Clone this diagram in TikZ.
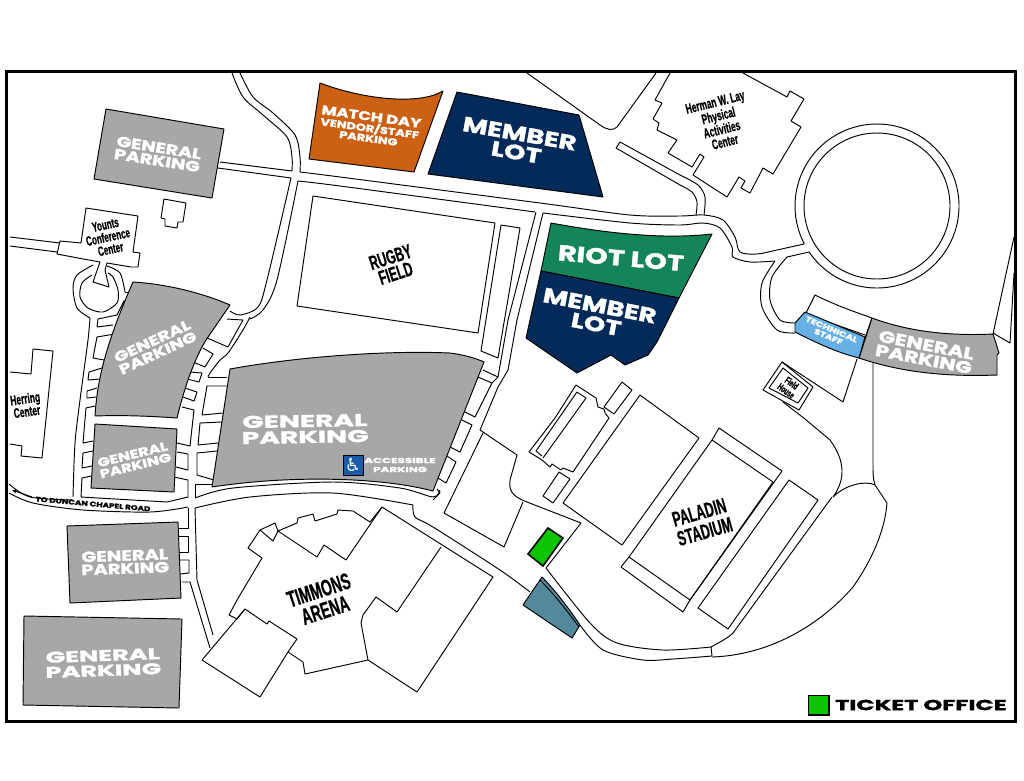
\documentclass[tikz,border=0pt]{standalone}
\usepackage{fontspec}
\usetikzlibrary{arrows.meta}
\newfontfamily\lotfont[FakeStretch=1.32,FakeBold=1.8]{Poppins Bold}
\newfontfamily\widefont[FakeStretch=1.65,FakeBold=1.8]{Poppins Bold}
\newfontfamily\signfont[FakeStretch=0.6,FakeBold=0.5]{Liberation Sans Bold}
\newfontfamily\symfont{DejaVu Sans}
\definecolor{lotgrey}{HTML}{A6A7A9}
\definecolor{lotnavy}{HTML}{032A58}
\definecolor{lotorange}{HTML}{CC6114}
\definecolor{lotgreen}{HTML}{148558}
\definecolor{lotblue}{HTML}{67B0E6}
\definecolor{lotteal}{HTML}{53899B}
\definecolor{ticketgreen}{HTML}{0CC400}
\definecolor{signblue}{HTML}{1A5CA8}
\tikzset{
  roadline/.style={draw=black, line width=0.95pt, line join=round},
  lotshape/.style={draw=black, line width=0.95pt, line join=round, fill=#1},
  lottext/.style 2 args={text=white, align=center, inner sep=0pt, font=\lotfont\fontsize{#1}{#2}\selectfont},
  widetext/.style 2 args={text=white, align=center, inner sep=0pt, font=\widefont\fontsize{#1}{#2}\selectfont},
  signtext/.style 2 args={text=black, align=center, inner sep=0pt, font=\signfont\fontsize{#1}{#2}\selectfont}
}
\begin{document}
\begin{tikzpicture}[x=1pt,y=-1pt]
\useasboundingbox (0,0) rectangle (1024,780);
\fill[white] (0,0) rectangle (1024,780);

\draw[roadline] plot[smooth] coordinates {(232,73) (243,97) (263,115) (287,137) (292,157) (292,171)};
\draw[roadline] plot[smooth] coordinates {(240,73) (253,97) (273,113) (295,135) (300,157) (300,172)};
\draw[roadline] (220,162) -- (292,171);
\draw[roadline] (218,168) -- (291,178);
\draw[roadline] plot[smooth] coordinates {(300,172) (340,177) (540,203) (630,215) (680,216) (704,215) (723,220) (735,237) (740,252) (757,254) (777,250) (804,244)};
\draw[roadline] plot[smooth] coordinates {(298,181) (340,186) (535,212)};
\draw[roadline] plot[smooth] coordinates {(543,213) (630,223) (680,225) (703,223) (720,228) (732,247) (733,257) (750,262) (775,261)};
\draw[roadline] (787,257) -- (809,252);
\draw[roadline] (620,142) -- (680,175);
\draw[roadline] (616,148) -- (680,185);
\draw[roadline] (620,142) -- (616,148);
\draw[roadline] plot[smooth] coordinates {(680,175) (698,185) (705,197) (704,215)};
\draw[roadline] plot[smooth] coordinates {(680,185) (692,192) (697,202) (696,215)};
\draw[roadline] plot[smooth] coordinates {(775,261) (762,283) (762,307) (777,330) (795,333)};
\draw[roadline] plot[smooth] coordinates {(787,257) (772,277) (770,300) (780,320) (795,323)};
\draw[roadline] plot[smooth,domain=152.5:506,samples=90] ({877+82*cos(\x)},{206+82*sin(\x)});
\draw[roadline] (877,206) circle (73);

\draw[roadline] plot[smooth] coordinates {(291,178) (267,280) (258,307) (240,315) (230,311)};
\draw[roadline] plot[smooth] coordinates {(298,181) (277,280) (263,310) (250,319)};
\draw[roadline] (10,237) -- (60,243);
\draw[roadline] (10,246) -- (57,252);
\draw[roadline] plot[smooth] coordinates {(93,265) (77,275) (73,288) (77,308) (90,318)};
\draw[roadline] plot[smooth] coordinates {(92,275) (82,283) (80,297) (88,308) (103,312) (117,303) (118,290) (113,277) (108,273)};
\draw[roadline] plot[smooth] coordinates {(107,266) (120,273) (125,292)};
\draw[roadline] (125,292) -- (132,292);
\draw[roadline] (130,300) -- (124,301) -- (117,315) -- (98,319);
\draw[roadline] (97,327) -- (113,325);
\draw[roadline] (98,319) -- (97,327);
\draw[roadline] plot[smooth] coordinates {(90,318) (88,340) (80,400) (75,443) (73,497)};
\draw[roadline] (115,334) -- (97,337) -- (93,358) -- (104,360);
\draw[roadline] (102,368) -- (89,372) -- (88,380) -- (100,379);
\draw[roadline] (97,388) -- (87,391) -- (87,398) -- (96,397);
\draw[roadline] (95,406) -- (86,408) -- (83,443) -- (93,441);
\draw[roadline] (93,451) -- (83,453) -- (82,468) -- (92,466);
\draw[roadline] (91,476) -- (82,478) -- (81,497) -- (167,502) -- (188,497) -- (188,480) -- (174,477);
\draw[roadline] (177,452) -- (188,454) -- (188,470) -- (176,467);
\draw[roadline] (177,443) -- (190,446) -- (194,410) -- (182,407);
\draw[roadline] (185,388) -- (197,392) -- (194,401) -- (183,397);
\draw[roadline] (190,372) -- (202,373) -- (199,382) -- (187,379);
\draw[roadline] (203,348) -- (213,354) -- (205,367) -- (193,362);
\draw[roadline] (227,319) -- (243,320) -- (228,347) -- (207,338);
\draw[roadline] plot[smooth] coordinates {(250,317) (243,330) (228,353) (220,360) (210,373) (208,377)};
\draw[roadline] (208,377) -- (227,377);
\draw[roadline] (227,386) -- (207,386) -- (202,415) -- (223,413);
\draw[roadline] (222,422) -- (200,423) -- (198,445) -- (218,443);
\draw[roadline] (217,451) -- (197,453) -- (197,475) -- (214,480);
\draw[roadline] (212,484) -- (195,484) -- (195,498);

\draw[roadline] plot[smooth] coordinates {(9,484) (30,497) (73,500)};
\draw[roadline] plot[smooth] coordinates {(9,493) (33,503) (83,510) (150,512) (188,507)};
\draw[roadline] plot[smooth] coordinates {(195,498) (233,488) (333,482) (400,488) (433,497) (440,490)};
\draw[roadline] plot[smooth] coordinates {(195,508) (250,497) (333,493) (413,505)};
\draw[roadline] plot[smooth] coordinates {(413,505) (415,517) (433,527) (500,570) (530,592)};
\draw[roadline,-{Stealth[length=5pt,width=4pt]}] (32,497) -- (12,490);
\draw[roadline] (188,508) -- (188,528) -- (178,528);
\draw[roadline] (178,536) -- (188,536) -- (188,552) -- (179,552);
\draw[roadline] (180,560) -- (189,560) -- (189,573) -- (180,574);
\draw[roadline] (182,582) -- (190,582) -- (210,648);
\draw[roadline] (195,508) -- (197,580) -- (213,635);

\draw[roadline] (536,212) -- (508,320) -- (498,377) -- (483,370);
\draw[roadline] (543,213) -- (517,320) -- (508,370) -- (498,387) -- (480,430);
\draw[roadline] (498,377) -- (492,383) -- (475,417) -- (465,412);
\draw[roadline] (492,383) -- (478,377);
\draw[roadline] (462,420) -- (472,425) -- (460,452) -- (450,447);
\draw[roadline] (447,456) -- (456,462) -- (446,483) -- (438,478);
\draw[roadline] (437,489) -- (440,493) -- (433,500);

\draw[roadline] (313,196) -- (495,223) -- (478,333) -- (297,306) -- cycle;
\draw[roadline] (501,225) -- (520,228) -- (498,358) -- (481,351) -- cycle;

\draw[roadline] (527,73) -- (600,125) .. controls (607,130) and (613,131) .. (617,127) -- (656,73);
\draw[roadline] (670,73) -- (655,100) -- (662,103) -- (653,119) -- (659,123) -- (657,130) -- (677,140) -- (668,153) -- (692,167) -- (700,154) -- (704,157) -- (693,175) -- (727,197) -- (739,177) -- (745,181) -- (741,188) -- (750,193) -- (763,168) -- (773,174) -- (801,127) -- (791,121) -- (804,99) -- (790,91) -- (787,97) -- (743,73);

\draw[roadline] (86,208) -- (138,216) -- (133,252) -- (140,253) -- (138,267) -- (131,267) -- (107,263) -- (105,270) -- (109,287) -- (93,282) -- (100,262) -- (78,258) -- (57,254) -- (60,241) -- (81,243) -- cycle;
\draw[roadline] (164,199) -- (186,203) -- (183,222) -- (178,222) -- (177,228) -- (165,226) -- (165,219) -- (161,218) -- cycle;
\draw[roadline] (10,372) -- (31,374) -- (33,349) -- (53,351) -- (42,458) -- (21,456) -- (22,446) -- (10,444);

\draw[roadline] (382,507) -- (493,577) -- (417,692) -- (368,660) -- (305,674) -- (303,662) -- (288,652) -- (297,639) -- (269,621) -- (267,624) -- (245,609) -- (237,619) -- (229,615) -- (237,600) -- (262,558) -- (248,548) -- (260,530) -- (275,523) -- (278,531) -- (297,523) -- (298,518) -- (313,514) -- (315,521) -- (337,514) -- (338,510) -- (353,511) -- (370,522) -- cycle;
\draw[roadline] (260,530) -- (273,541) -- (278,531) -- (317,557) -- (324,545) -- (346,560) -- (382,507);
\draw[roadline] (441,547) -- (397,612) -- (376,597) -- (363,615) -- (361,623) -- (368,660);
\draw[roadline] (245,609) -- (202,660) -- (260,697) -- (288,652);

\draw[roadline] (480,430) -- (517,455) -- (510,480) .. controls (509,490) and (511,496) .. (527,502) -- (581,523) -- (546,568);
\draw[roadline] plot[smooth] coordinates {(546,568) (590,623) (617,643) (663,650) (711,647)};
\draw[roadline] plot[smooth] coordinates {(580,625) (603,650) (643,660) (673,659) (712,656)};
\draw[roadline] (711,647) -- (712,656);
\draw[roadline] (483,433) -- (444,513) -- (504,547) -- (523,502);

\draw[roadline] (576,385) -- (596,398) -- (598,407) -- (604,409) -- (605,413) -- (609,418) -- (573,472) -- (563,468) -- (561,470) -- (552,464) -- (550,467) -- (542,460) -- (529,452) -- (555,418) -- cycle;
\draw[roadline] (577,392) -- (536,451) -- (542,456);
\draw[roadline] (586,398) -- (577,392);
\draw[roadline] (586,398) -- (543,458);
\draw[roadline] (622,382) -- (632,390) -- (614,414) -- (604,407) -- cycle;
\draw[roadline] (559,472) -- (570,479) -- (553,503) -- (543,496) -- cycle;
\draw[roadline] (640,395) -- (699,438) -- (622,545) -- (563,503) -- cycle;
\draw[roadline] (719,428) -- (782,471) -- (690,600) -- (683,612) -- (621,567) -- (629,557) -- (712,440) -- cycle;
\draw[roadline] (712,440) -- (773,482);
\draw[roadline] (629,557) -- (690,600);
\draw[roadline] (773,482) -- (690,600);
\draw[roadline] (789,480) -- (818,500) -- (728,629) -- (698,608) -- cycle;
\draw[roadline] (711,647) .. controls (720,642) and (728,638) .. (733,633) -- (832,497);
\draw[roadline] (712,657) .. controls (770,655) and (820,625) .. (853,587) .. controls (872,560) and (885,530) .. (887,503) -- (875,485) .. controls (865,480) and (845,485) .. (833,497) .. controls (845,480) and (846,462) .. (830,440) -- (805,419) -- (783,402);
\draw[roadline] (873,363) -- (873,470) .. controls (873,477) and (874,482) .. (875,485);

\draw[roadline] (782,362) -- (813,387) -- (799,410) -- (763,390) -- cycle;
\draw[roadline] (783,368) -- (808,388) -- (798,403) -- (769,388) -- cycle;
\draw[roadline] (782,362) -- (843,402) -- (857,359);

\draw[roadline] (993,334) -- (1014,237);
\draw[roadline] (993,333) -- (1010,343) -- (1014,273);
\draw[roadline] (815,295) .. controls (835,305) and (855,312) .. (872,318) -- (865,338) -- (806,313) -- cycle;
\draw[roadline] (808,315) -- (865,335);

\draw[lotshape=lotgrey] (106,109) -- (224,129) -- (212,198) -- (94,179) -- cycle;
\draw[lotshape=lotgrey] (133,282) .. controls (165,284) and (200,292) .. (230,305) -- (206,340) .. controls (195,358) and (185,385) .. (177,418) .. controls (150,416) and (120,415) .. (95,416) .. controls (97,385) and (103,350) .. (133,282) -- cycle;
\draw[lotshape=lotgrey] (95,424) -- (177,429) -- (174,492) -- (91,488) -- cycle;
\draw[lotshape=lotgrey] (230,369) .. controls (290,358) and (380,350) .. (450,353) .. controls (465,355) and (475,358) .. (484,362) -- (433,491) .. controls (380,477) and (290,475) .. (212,487) -- cycle;
\draw[lotshape=lotgrey] (67,526) -- (178,522) -- (181,598) -- (70,603) -- cycle;
\draw[lotshape=lotgrey] (24,616) -- (182,619) -- (179,708) -- (23,705) -- cycle;
\draw[lotshape=lotgrey] (872,318) .. controls (910,332) and (950,336) .. (993,334) -- (999,353) -- (997,355) -- (997,375) .. controls (945,377) and (900,372) .. (859,358) -- cycle;
\draw[lotshape=lotorange] (320,83) .. controls (365,100) and (420,105) .. (443,91) -- (414,172) -- (309,159) -- cycle;
\draw[lotshape=lotnavy] (457,92) -- (579,115) -- (603,197) -- (428,174) -- cycle;
\draw[lotshape=lotgreen] (551,223) .. controls (600,232) and (660,240) .. (712,234) -- (679,298) -- (541,271) -- cycle;
\draw[lotshape=lotnavy] (541,271) -- (679,298) -- (657,342) -- (648,355) -- (625,365) -- (611,355) -- (577,373) -- (526,338) -- cycle;
\draw[lotshape=lotblue] (805,312) -- (865,337) -- (859,358) .. controls (835,352) and (815,342) .. (795,332) -- (795,323) -- cycle;
\draw[lotshape=lotteal] (542,577) .. controls (555,590) and (570,610) .. (580,625) -- (572,638) -- (523,605) -- cycle;
\draw[roadline] (540,580) .. controls (555,595) and (568,612) .. (579,627);
\draw[black, line width=1.6pt, fill=ticketgreen] (548,528) -- (563,538) -- (543,566) -- (528,554) -- cycle;
\draw[black, line width=1.4pt, fill=ticketgreen] (808.5,695.5) rectangle (829,715);
\draw[black, line width=1pt, fill=signblue] (343,455) rectangle (363,475);

\node[lottext={14.5}{13}, rotate=-9] (parkingone) at (158,154) {GENERAL\\PARKING};
\node[lottext={14}{13}, rotate=25] (parkingtwo) at (155,347) {GENERAL\\PARKING};
\node[lottext={12.2}{11.5}, rotate=14] (parkingthree) at (134,460) {GENERAL\\PARKING};
\node[widetext={17}{16}, rotate=1] (parkingfour) at (305,429) {GENERAL\\PARKING};
\node[lottext={14.7}{13}, rotate=2] (parkingfive) at (125,562) {GENERAL\\PARKING};
\node[widetext={15.5}{15}, rotate=2] (parkingsix) at (103,663) {GENERAL\\PARKING};
\node[lottext={16.4}{14.5}, rotate=-11] (parkingseven) at (925,352) {GENERAL\\PARKING};
\node[lottext={12.5}{12}, rotate=-8] (matchday) at (370,127) {MATCH DAY\\[-1pt]{\fontsize{9.8}{9}\selectfont VENDOR/STAFF}\\[-2pt]{\fontsize{9.8}{9}\selectfont PARKING}};
\node[lottext={20.6}{19}, rotate=-10] (membertop) at (518,143) {MEMBER\\LOT};
\node[lottext={21.8}{20}, rotate=-5] (riotlot) at (621,258) {RIOT LOT};
\node[lottext={20.6}{19}, rotate=-11] (memberlow) at (598,315) {MEMBER\\LOT};
\node[lottext={7.5}{8}, rotate=-23] (techstaff) at (830,333) {TECHNICAL\\STAFF};
\node[widetext={7.2}{9}] (accessible) at (400,465) {ACCESSIBLE\\PARKING};
\node[text=white, inner sep=0pt, font=\symfont\fontsize{18}{18}\selectfont] (wheelchair) at (353,465) {♿};
\node[widetext={14.5}{14}, text=black, anchor=west] (ticketoffice) at (835,705) {TICKET OFFICE};
\node[text=black, inner sep=0pt, rotate=-5, font=\lotfont\fontsize{6.6}{6.6}\selectfont] (duncanroad) at (93,504) {TO DUNCAN CHAPEL ROAD};

\node[signtext={20}{17}, rotate=18] (rugbyfield) at (393,265) {RUGBY\\FIELD};
\node[signtext={23}{21}, rotate=18] (timmons) at (322,600) {TIMMONS\\ARENA};
\node[signtext={21}{20}, rotate=16] (paladin) at (702,522) {PALADIN\\STADIUM};
\node[signtext={13.5}{12.5}, rotate=12] (younts) at (108,237) {Younts\\Conference\\Center};
\node[signtext={14}{13}, rotate=14] (hermanlay) at (720,122) {Herman W. Lay\\Physical\\Activities\\Center};
\node[signtext={14}{13}, rotate=8] (herring) at (26,405) {Herring\\Center};
\node[signtext={10}{9.5}, rotate=-36] (fieldhouse) at (789,387) {Field\\House};

\draw[black, line width=3pt] (6.5,71.5) rectangle (1015.5,721);
\end{tikzpicture}
\end{document}
